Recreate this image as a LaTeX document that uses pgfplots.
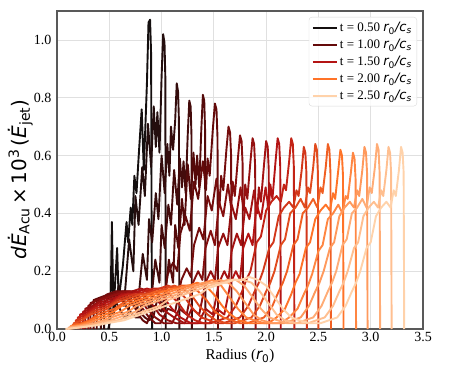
\documentclass[border=0pt]{standalone}
\usepackage{fontspec}
\setmainfont{Liberation Serif}
\newfontfamily\djv{DejaVu Sans}
\usepackage{pgfplots}
\pgfplotsset{compat=1.18}

% colour ramp: black -> dark red -> red -> orange -> peach
\definecolor{c0}{RGB}{20,15,15}
\definecolor{c1}{RGB}{36,14,14}
\definecolor{c2}{RGB}{52,12,12}
\definecolor{c3}{RGB}{68,11,11}
\definecolor{c4}{RGB}{84,10,10}
\definecolor{c5}{RGB}{100,10,10}
\definecolor{c6}{RGB}{116,12,12}
\definecolor{c7}{RGB}{132,14,14}
\definecolor{c8}{RGB}{148,16,16}
\definecolor{c9}{RGB}{164,18,18}
\definecolor{c10}{RGB}{180,20,20}
\definecolor{c11}{RGB}{195,35,22}
\definecolor{c12}{RGB}{210,55,26}
\definecolor{c13}{RGB}{225,75,30}
\definecolor{c14}{RGB}{240,95,35}
\definecolor{c15}{RGB}{255,115,40}
\definecolor{c16}{RGB}{255,134,66}
\definecolor{c17}{RGB}{255,153,92}
\definecolor{c18}{RGB}{255,172,118}
\definecolor{c19}{RGB}{255,191,144}
\definecolor{c20}{RGB}{255,210,170}

\newcommand{\tunit}{{\djv\itshape r}\textsubscript{\djv 0}{\djv\itshape /c}\textsubscript{\djv\itshape s}}

\begin{document}
\begin{tikzpicture}
\begin{axis}[
  scale only axis, width=366pt, height=318pt,
  xmin=0, xmax=3.5, ymin=0, ymax=1.10,
  xtick={0,0.5,...,3.5}, ytick={0,0.2,...,1.0},
  /pgf/number format/assume math mode=true,
  xticklabel style={/pgf/number format/.cd, fixed, fixed zerofill, precision=1},
  yticklabel style={/pgf/number format/.cd, fixed, fixed zerofill, precision=1, /tikz/.cd, xshift=-2pt},
  ticklabel style={font=\fontsize{14}{16}\selectfont},
  major tick length=0pt,
  grid=major, grid style={black!12, line width=0.8pt},
  axis line style={black!65, line width=1.1pt},
  xlabel={Radius ({\djv\itshape r}\textsubscript{\djv 0})},
  xlabel style={font=\fontsize{15}{17}\selectfont, at={(axis description cs:0.5,0)}, anchor=north, yshift=-17pt},
  ylabel={{\djv\itshape dĖ}\textsubscript{\djv Acu}{\djv\,×\,10\textsuperscript{3}\,(}{\djv\itshape Ė}\textsubscript{\djv jet}{\djv )}},
  ylabel style={font=\fontsize{20}{24}\selectfont, at={(axis description cs:-0.1,0.47)}, anchor=center},
  every axis plot/.append style={line width=1.9pt, line join=round, no markers},
  legend style={at={(1,1)}, anchor=north east, xshift=-6pt, yshift=-6pt,
    draw=black!15, rounded corners=3pt, fill=white, fill opacity=0.85, text opacity=1,
    font=\fontsize{13}{15}\selectfont, row sep=2pt, inner sep=3pt},
  legend cell align=left,
  legend image code/.code={\draw[#1, line width=2pt] (0pt,0pt) -- (24pt,0pt);},
]
\addplot[c0] coordinates {(0.49,0) (0.51,0.03) (0.525,0.37) (0.54,0.06) (0.575,0.28) (0.59,0.10) (0.63,0.22) (0.665,0.37) (0.68,0.30) (0.705,0.42) (0.72,0.36) (0.74,0.53) (0.76,0.47) (0.785,0.62) (0.81,0.76) (0.83,0.55) (0.86,0.85) (0.875,1.06) (0.89,1.07) (0.90,0.95) (0.905,0.30) (0.91,0)};
\addlegendentry{t = 0.50 \tunit}
\addplot[c1, forget plot] coordinates {(0.50,0) (0.50,0.08) (0.52,0.06) (0.54,0.05) (0.59,0.15) (0.64,0.08) (0.69,0.31) (0.73,0.20) (0.75,0.46) (0.78,0.36) (0.815,0.56) (0.84,0.46) (0.87,0.71) (0.90,0.56) (0.925,0.77) (0.945,0.63) (0.96,0.75) (0.98,0.61) (1.00,0.87) (1.015,1.02) (1.028,0.99) (1.036,0.87) (1.04,0)};
\addplot[c2, forget plot] coordinates {(0.45,0) (0.45,0.09) (0.50,0.11) (0.55,0.10) (0.60,0.07) (0.64,0.04) (0.67,0.04) (0.72,0.13) (0.77,0.07) (0.82,0.26) (0.86,0.17) (0.88,0.38) (0.91,0.30) (0.945,0.47) (0.97,0.38) (1.00,0.60) (1.03,0.47) (1.055,0.64) (1.075,0.53) (1.09,0.70) (1.11,0.62) (1.13,0.72) (1.145,0.85) (1.158,0.82) (1.166,0.72) (1.17,0)};
\addplot[c3, forget plot] coordinates {(0.42,0) (0.42,0.10) (0.48,0.11) (0.55,0.12) (0.62,0.10) (0.70,0.06) (0.75,0.04) (0.79,0.04) (0.84,0.12) (0.89,0.06) (0.94,0.24) (0.98,0.16) (1.00,0.36) (1.03,0.28) (1.065,0.43) (1.09,0.36) (1.12,0.55) (1.15,0.43) (1.175,0.59) (1.195,0.49) (1.21,0.58) (1.23,0.47) (1.25,0.67) (1.265,0.79) (1.278,0.77) (1.286,0.67) (1.29,0)};
\addplot[c4, forget plot] coordinates {(0.38,0) (0.38,0.10) (0.45,0.11) (0.52,0.12) (0.60,0.12) (0.68,0.10) (0.76,0.07) (0.84,0.04) (0.88,0.03) (0.92,0.04) (0.97,0.12) (1.02,0.06) (1.07,0.24) (1.11,0.16) (1.13,0.36) (1.16,0.28) (1.195,0.45) (1.22,0.36) (1.25,0.57) (1.28,0.45) (1.305,0.61) (1.325,0.50) (1.34,0.60) (1.36,0.49) (1.38,0.69) (1.395,0.81) (1.408,0.79) (1.416,0.69) (1.42,0)};
\addplot[c5] coordinates {(0.35,0) (0.35,0.10) (0.42,0.11) (0.50,0.12) (0.58,0.13) (0.66,0.12) (0.72,0.09) (0.78,0.05) (0.82,0.03) (0.86,0.02) (0.93,0.08) (1.00,0.06) (1.06,0.19) (1.11,0.23) (1.15,0.20) (1.18,0.33) (1.23,0.39) (1.27,0.34) (1.31,0.51) (1.35,0.45) (1.395,0.58) (1.425,0.48) (1.44,0.59) (1.46,0.53) (1.49,0.69) (1.51,0.78) (1.525,0.76) (1.535,0.66) (1.54,0)};
\addlegendentry{t = 1.00 \tunit}
\addplot[c6, forget plot] coordinates {(0.32,0) (0.32,0.09) (0.40,0.10) (0.48,0.12) (0.56,0.13) (0.64,0.13) (0.72,0.12) (0.80,0.08) (0.88,0.04) (0.94,0.02) (0.99,0.02) (1.06,0.07) (1.13,0.06) (1.19,0.17) (1.24,0.21) (1.28,0.18) (1.31,0.29) (1.36,0.35) (1.40,0.31) (1.44,0.46) (1.48,0.41) (1.525,0.52) (1.555,0.43) (1.57,0.53) (1.59,0.48) (1.62,0.62) (1.64,0.70) (1.655,0.68) (1.665,0.60) (1.67,0)};
\addplot[c7, forget plot] coordinates {(0.30,0) (0.30,0.08) (0.38,0.10) (0.46,0.11) (0.54,0.12) (0.62,0.13) (0.70,0.13) (0.78,0.11) (0.86,0.07) (0.94,0.04) (1.02,0.02) (1.10,0.02) (1.17,0.07) (1.24,0.05) (1.30,0.16) (1.35,0.20) (1.39,0.17) (1.42,0.28) (1.47,0.34) (1.51,0.29) (1.55,0.44) (1.59,0.39) (1.635,0.50) (1.665,0.42) (1.68,0.51) (1.70,0.46) (1.73,0.59) (1.75,0.67) (1.765,0.65) (1.775,0.57) (1.78,0)};
\addplot[c8, forget plot] coordinates {(0.27,0) (0.27,0.07) (0.34,0.08) (0.42,0.10) (0.50,0.11) (0.58,0.12) (0.66,0.13) (0.74,0.13) (0.82,0.12) (0.90,0.09) (0.98,0.05) (1.06,0.03) (1.14,0.02) (1.22,0.02) (1.29,0.07) (1.36,0.05) (1.42,0.16) (1.47,0.20) (1.51,0.17) (1.54,0.28) (1.59,0.33) (1.63,0.29) (1.67,0.43) (1.71,0.38) (1.755,0.49) (1.785,0.41) (1.80,0.50) (1.82,0.45) (1.85,0.58) (1.87,0.66) (1.885,0.64) (1.895,0.56) (1.90,0)};
\addplot[c9, forget plot] coordinates {(0.25,0) (0.25,0.06) (0.32,0.07) (0.40,0.09) (0.48,0.10) (0.56,0.11) (0.64,0.12) (0.72,0.13) (0.80,0.14) (0.88,0.13) (0.96,0.10) (1.04,0.06) (1.12,0.04) (1.22,0.02) (1.30,0.02) (1.35,0.02) (1.42,0.07) (1.49,0.05) (1.55,0.16) (1.60,0.20) (1.64,0.17) (1.67,0.27) (1.72,0.33) (1.76,0.29) (1.80,0.42) (1.84,0.38) (1.885,0.48) (1.915,0.40) (1.93,0.49) (1.95,0.44) (1.98,0.57) (2.00,0.65) (2.015,0.63) (2.025,0.55) (2.03,0)};
\addplot[c10] coordinates {(0.22,0) (0.22,0.05) (0.30,0.06) (0.38,0.08) (0.46,0.09) (0.54,0.10) (0.62,0.12) (0.70,0.12) (0.78,0.13) (0.86,0.14) (0.94,0.13) (1.02,0.11) (1.10,0.07) (1.18,0.04) (1.28,0.02) (1.38,0.02) (1.46,0.02) (1.53,0.07) (1.60,0.05) (1.66,0.16) (1.71,0.20) (1.75,0.17) (1.78,0.28) (1.83,0.33) (1.87,0.29) (1.91,0.43) (1.95,0.38) (1.995,0.49) (2.025,0.41) (2.04,0.50) (2.06,0.45) (2.09,0.58) (2.11,0.66) (2.125,0.64) (2.135,0.56) (2.14,0)};
\addlegendentry{t = 1.50 \tunit}
\addplot[c11, forget plot] coordinates {(0.20,0) (0.20,0.04) (0.28,0.05) (0.36,0.07) (0.44,0.08) (0.52,0.09) (0.60,0.11) (0.68,0.12) (0.76,0.12) (0.84,0.13) (0.92,0.14) (1.00,0.14) (1.08,0.12) (1.16,0.09) (1.24,0.05) (1.32,0.03) (1.40,0.02) (1.47,0.02) (1.55,0.03) (1.63,0.04) (1.71,0.08) (1.77,0.13) (1.81,0.17) (1.85,0.20) (1.91,0.30) (1.95,0.32) (2.00,0.41) (2.05,0.44) (2.10,0.46) (2.14,0.44) (2.17,0.50) (2.19,0.48) (2.22,0.58) (2.24,0.66) (2.255,0.64) (2.265,0.56) (2.27,0)};
\addplot[c12, forget plot] coordinates {(0.18,0) (0.18,0.03) (0.26,0.04) (0.34,0.06) (0.42,0.07) (0.50,0.08) (0.58,0.10) (0.66,0.11) (0.74,0.12) (0.82,0.12) (0.90,0.13) (0.98,0.14) (1.06,0.15) (1.14,0.14) (1.22,0.11) (1.30,0.07) (1.38,0.04) (1.46,0.03) (1.52,0.02) (1.59,0.02) (1.67,0.03) (1.75,0.04) (1.83,0.08) (1.89,0.13) (1.93,0.16) (1.97,0.20) (2.03,0.28) (2.07,0.30) (2.12,0.39) (2.17,0.42) (2.22,0.44) (2.26,0.42) (2.29,0.48) (2.31,0.46) (2.34,0.55) (2.36,0.63) (2.375,0.61) (2.385,0.54) (2.39,0)};
\addplot[c13, forget plot] coordinates {(0.16,0) (0.16,0.02) (0.24,0.03) (0.32,0.05) (0.40,0.06) (0.48,0.07) (0.56,0.09) (0.64,0.10) (0.72,0.11) (0.80,0.12) (0.88,0.12) (0.96,0.13) (1.04,0.14) (1.12,0.15) (1.20,0.14) (1.28,0.12) (1.36,0.08) (1.44,0.05) (1.52,0.03) (1.62,0.02) (1.70,0.02) (1.78,0.03) (1.86,0.04) (1.94,0.08) (2.00,0.13) (2.04,0.16) (2.08,0.20) (2.14,0.29) (2.18,0.31) (2.23,0.40) (2.28,0.42) (2.33,0.45) (2.37,0.42) (2.40,0.49) (2.42,0.47) (2.45,0.56) (2.47,0.64) (2.485,0.62) (2.495,0.54) (2.50,0)};
\addplot[c14, forget plot] coordinates {(0.15,0) (0.15,0.015) (0.23,0.02) (0.31,0.03) (0.39,0.05) (0.47,0.06) (0.55,0.07) (0.63,0.09) (0.71,0.10) (0.79,0.11) (0.87,0.12) (0.95,0.13) (1.03,0.13) (1.11,0.14) (1.19,0.15) (1.27,0.15) (1.35,0.13) (1.43,0.10) (1.51,0.06) (1.59,0.04) (1.67,0.03) (1.75,0.02) (1.82,0.02) (1.90,0.03) (1.98,0.04) (2.06,0.08) (2.12,0.13) (2.16,0.16) (2.20,0.20) (2.26,0.29) (2.30,0.31) (2.35,0.40) (2.40,0.42) (2.45,0.45) (2.49,0.42) (2.52,0.49) (2.54,0.47) (2.57,0.56) (2.59,0.64) (2.605,0.62) (2.615,0.54) (2.62,0)};
\addplot[c15] coordinates {(0.14,0) (0.14,0.01) (0.22,0.015) (0.30,0.025) (0.38,0.04) (0.46,0.05) (0.54,0.06) (0.62,0.08) (0.70,0.09) (0.78,0.10) (0.86,0.11) (0.94,0.12) (1.02,0.13) (1.10,0.14) (1.18,0.14) (1.26,0.15) (1.34,0.16) (1.42,0.15) (1.50,0.12) (1.58,0.08) (1.66,0.05) (1.74,0.03) (1.84,0.02) (1.94,0.02) (2.02,0.02) (2.10,0.04) (2.18,0.07) (2.24,0.12) (2.28,0.16) (2.32,0.19) (2.38,0.28) (2.42,0.30) (2.47,0.38) (2.52,0.41) (2.57,0.43) (2.61,0.41) (2.64,0.47) (2.66,0.45) (2.69,0.55) (2.71,0.62) (2.725,0.60) (2.735,0.53) (2.74,0)};
\addlegendentry{t = 2.00 \tunit}
\addplot[c16, forget plot] coordinates {(0.13,0) (0.13,0.01) (0.21,0.012) (0.29,0.02) (0.37,0.03) (0.45,0.04) (0.53,0.05) (0.61,0.06) (0.69,0.08) (0.77,0.09) (0.85,0.10) (0.93,0.11) (1.01,0.12) (1.09,0.13) (1.17,0.14) (1.25,0.15) (1.33,0.15) (1.41,0.16) (1.49,0.17) (1.57,0.15) (1.65,0.11) (1.73,0.07) (1.81,0.04) (1.89,0.03) (1.98,0.02) (2.06,0.02) (2.14,0.02) (2.22,0.04) (2.30,0.07) (2.36,0.12) (2.40,0.15) (2.44,0.19) (2.50,0.27) (2.54,0.29) (2.59,0.38) (2.64,0.40) (2.69,0.43) (2.73,0.40) (2.76,0.46) (2.78,0.45) (2.81,0.54) (2.83,0.61) (2.845,0.59) (2.855,0.52) (2.86,0)};
\addplot[c17, forget plot] coordinates {(0.12,0) (0.12,0.005) (0.20,0.01) (0.28,0.015) (0.36,0.02) (0.44,0.03) (0.52,0.04) (0.60,0.05) (0.68,0.06) (0.76,0.08) (0.84,0.09) (0.92,0.10) (1.00,0.11) (1.08,0.12) (1.16,0.13) (1.24,0.14) (1.32,0.15) (1.40,0.16) (1.48,0.16) (1.56,0.17) (1.64,0.16) (1.72,0.13) (1.80,0.09) (1.88,0.05) (1.96,0.03) (2.06,0.02) (2.17,0.02) (2.25,0.03) (2.33,0.04) (2.41,0.08) (2.47,0.13) (2.51,0.16) (2.55,0.20) (2.61,0.28) (2.65,0.30) (2.70,0.39) (2.75,0.42) (2.80,0.44) (2.84,0.42) (2.87,0.48) (2.89,0.46) (2.92,0.55) (2.94,0.63) (2.955,0.61) (2.965,0.54) (2.97,0)};
\addplot[c18, forget plot] coordinates {(0.11,0) (0.11,0.005) (0.19,0.008) (0.27,0.012) (0.35,0.018) (0.43,0.025) (0.51,0.03) (0.59,0.04) (0.67,0.05) (0.75,0.06) (0.83,0.08) (0.91,0.09) (0.99,0.10) (1.07,0.11) (1.15,0.12) (1.23,0.13) (1.31,0.14) (1.39,0.15) (1.47,0.16) (1.55,0.16) (1.63,0.17) (1.71,0.17) (1.79,0.15) (1.87,0.11) (1.95,0.07) (2.03,0.04) (2.11,0.03) (2.20,0.02) (2.29,0.02) (2.37,0.03) (2.45,0.04) (2.53,0.08) (2.59,0.13) (2.63,0.16) (2.67,0.20) (2.73,0.29) (2.77,0.31) (2.82,0.40) (2.87,0.42) (2.92,0.45) (2.96,0.42) (2.99,0.49) (3.01,0.47) (3.04,0.56) (3.06,0.64) (3.075,0.62) (3.085,0.54) (3.09,0)};
\addplot[c19, forget plot] coordinates {(0.10,0) (0.18,0.004) (0.26,0.008) (0.34,0.012) (0.42,0.018) (0.50,0.025) (0.58,0.03) (0.66,0.04) (0.74,0.05) (0.82,0.06) (0.90,0.07) (0.98,0.08) (1.06,0.10) (1.14,0.11) (1.22,0.12) (1.30,0.13) (1.38,0.14) (1.46,0.15) (1.54,0.16) (1.62,0.16) (1.70,0.17) (1.78,0.17) (1.86,0.16) (1.94,0.13) (2.02,0.09) (2.10,0.05) (2.18,0.03) (2.30,0.02) (2.40,0.02) (2.48,0.03) (2.56,0.04) (2.64,0.08) (2.70,0.13) (2.74,0.16) (2.78,0.20) (2.84,0.28) (2.88,0.30) (2.93,0.39) (2.98,0.42) (3.03,0.44) (3.07,0.42) (3.10,0.48) (3.12,0.46) (3.15,0.55) (3.17,0.63) (3.185,0.61) (3.195,0.54) (3.20,0)};
\addplot[c20] coordinates {(0.08,0) (0.16,0.003) (0.24,0.006) (0.32,0.01) (0.40,0.014) (0.48,0.02) (0.56,0.025) (0.64,0.03) (0.72,0.04) (0.80,0.05) (0.88,0.06) (0.96,0.07) (1.04,0.08) (1.12,0.09) (1.20,0.10) (1.28,0.11) (1.36,0.12) (1.44,0.14) (1.52,0.15) (1.60,0.16) (1.68,0.17) (1.76,0.17) (1.84,0.18) (1.92,0.17) (2.00,0.15) (2.08,0.11) (2.16,0.07) (2.24,0.04) (2.32,0.03) (2.42,0.02) (2.52,0.02) (2.60,0.03) (2.68,0.04) (2.76,0.08) (2.82,0.13) (2.86,0.16) (2.90,0.20) (2.96,0.28) (3.00,0.30) (3.05,0.39) (3.10,0.42) (3.15,0.44) (3.19,0.42) (3.22,0.48) (3.24,0.46) (3.27,0.55) (3.29,0.63) (3.305,0.61) (3.315,0.54) (3.32,0)};
\addlegendentry{t = 2.50 \tunit}
\end{axis}
\pgfresetboundingbox
\path ([xshift=-57pt,yshift=-37pt]current axis.south west) rectangle ([xshift=47pt,yshift=11pt]current axis.north east);
\end{tikzpicture}
\end{document}
